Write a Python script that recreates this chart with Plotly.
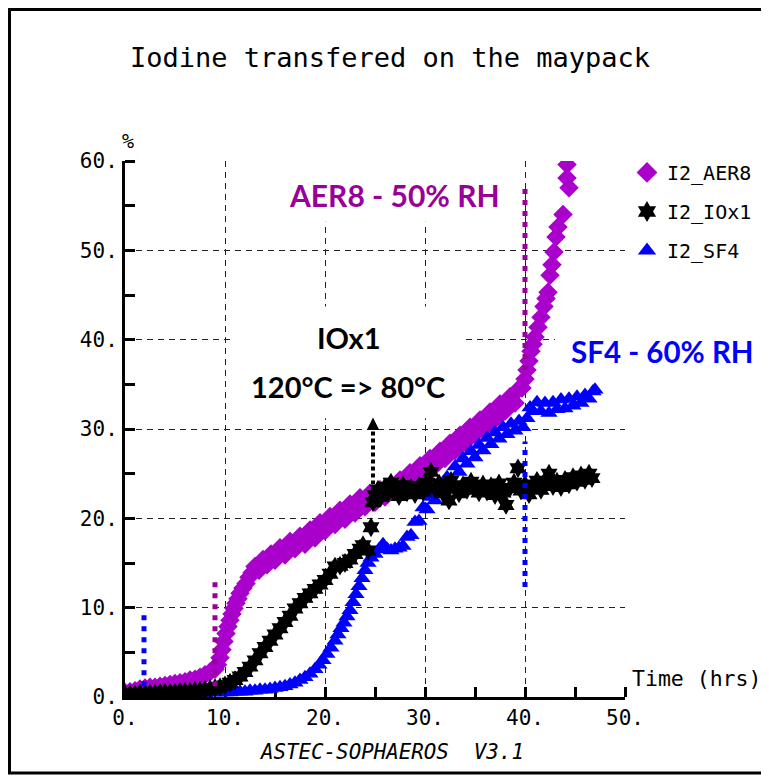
import plotly.graph_objects as go

# ---------------- data ----------------
aer8_x = [0.0, 0.5, 1.0, 1.5, 2.0, 2.5, 3.0, 3.5, 4.0, 4.5, 5.0, 5.5, 6.0, 6.5, 7.0, 7.5, 8.0, 8.5, 9.0,
          9.25, 9.5, 9.7, 9.9, 10.1, 10.3, 10.5, 10.7, 10.9, 11.1, 11.3, 11.5, 11.8, 12.1, 12.4, 12.7,
          13.0, 13.4, 13.8, 14.2, 14.6, 15.0, 15.5, 16.0, 16.5, 17.0, 17.5, 18.0, 18.5, 19.0, 19.5,
          20.0, 20.5, 21.0, 21.5, 22.0, 22.5, 23.0, 23.5, 24.0, 24.5, 25.0, 25.5, 26.0, 26.5, 27.0,
          27.5, 28.0, 28.5, 29.0, 29.5, 30.0, 30.5, 31.0, 31.5, 32.0, 32.5, 33.0, 33.5, 34.0, 34.5,
          35.0, 35.5, 36.0, 36.5, 37.0, 37.5, 38.0, 38.5, 39.0, 39.4, 39.7, 40.0, 40.2, 40.4, 40.6,
          40.8, 41.0, 41.3, 41.6, 41.9, 42.1, 42.3, 42.5, 42.7, 42.9, 43.1, 43.3, 43.8, 44.4, 44.2, 44.2]
aer8_y = [0.5, 0.6, 0.7, 0.9, 1.0, 1.1, 1.1, 1.2, 1.3, 1.4, 1.5, 1.6, 1.7, 1.9, 2.0, 2.2, 2.5, 2.8, 3.1,
          3.6, 4.4, 5.3, 6.2, 7.1, 7.9, 8.6, 9.3, 9.9, 10.5, 11.0, 11.6, 12.2, 12.7, 13.4, 13.9,
          14.6, 14.2, 15.4, 14.8, 16.0, 15.3, 16.7, 15.9, 17.4, 16.6, 18.0, 17.1, 18.7, 17.8, 19.5,
          18.6, 20.2, 19.3, 20.9, 19.9, 21.6, 20.6, 22.3, 21.3, 22.8, 21.8, 23.2, 22.4, 23.7, 23.0,
          24.3, 23.6, 25.1, 24.3, 25.9, 25.1, 26.7, 25.9, 27.5, 26.7, 28.4, 27.6, 29.3, 28.5, 30.2,
          29.4, 31.0, 30.2, 31.9, 31.1, 32.8, 32.0, 33.6, 32.9, 34.5, 34.6, 35.6, 36.6, 37.6, 38.7,
          39.5, 40.3, 41.4, 42.5, 43.7, 44.6, 45.3, 47.2, 48.4, 49.8, 51.5, 52.6, 54.0, 57.0, 58.1, 59.6]

iox1_x = [0, 0.5, 1, 1.5, 2, 2.5, 3, 3.5, 4, 4.5, 5, 5.5, 6, 6.5, 7, 7.5, 8, 8.5, 9, 9.5, 10, 10.5,
          11, 11.5, 12, 12.5, 13, 13.5, 14, 14.5, 15, 15.5, 16, 16.5, 17, 17.5, 18, 18.5, 19, 19.5,
          20, 20.5, 21, 21.5, 22, 22.5, 23, 23.5, 23.8, 24.3, 24.6, 24.8, 25.0, 25.3, 25.6, 26.0,
          26.3, 26.6, 27.0, 27.4, 27.8, 28.2, 28.6, 29.0, 29.4, 29.8, 30.2, 30.6, 31.0, 31.4, 31.8,
          32.2, 32.4, 32.6, 33.0, 33.4, 33.8, 34.2, 34.6, 35.0, 35.4, 35.8, 36.2, 36.6, 37.0, 37.4,
          37.8, 38.1, 38.5, 38.9, 39.3, 39.6, 40.0, 40.4, 40.8, 41.2, 41.6, 42.0, 42.4, 42.8, 43.2,
          43.6, 44.0, 44.4, 44.8, 45.2, 45.6, 46.0, 46.4, 46.7]
iox1_y = [0.3, 0.3, 0.3, 0.4, 0.4, 0.4, 0.4, 0.5, 0.5, 0.5, 0.5, 0.6, 0.6, 0.6, 0.7, 0.7, 0.8, 0.9,
          1.0, 1.1, 1.3, 1.6, 1.9, 2.3, 2.8, 3.4, 4.1, 4.9, 5.6, 6.3, 7.0, 7.7, 8.4, 9.1, 9.9, 10.5,
          11.1, 11.6, 12.1, 12.6, 13.1, 13.8, 14.6, 14.7, 15.0, 15.4, 16.0, 16.6, 17.0, 16.4, 19.0,
          21.8, 22.6, 23.2, 22.4, 23.5, 22.8, 24.0, 23.1, 22.5, 23.7, 22.9, 23.4, 22.7, 23.6, 23.0,
          24.0, 25.2, 23.3, 23.9, 22.8, 23.6, 22.0, 24.2, 23.3, 22.8, 23.7, 23.2, 24.1, 23.4, 22.9,
          23.8, 23.0, 23.6, 22.6, 23.9, 22.9, 21.5, 23.4, 24.0, 25.6, 23.1, 23.8, 22.7, 23.5, 24.2,
          23.2, 23.8, 25.0, 23.6, 24.1, 23.5, 24.3, 23.8, 24.6, 24.1, 24.8, 24.3, 25.0, 24.5]

sf4_x = [0, 0.5, 1, 1.5, 2, 2.5, 3, 3.5, 4, 4.5, 5, 5.5, 6, 6.5, 7, 7.5, 8, 8.5, 9, 9.5, 10, 10.5,
         11, 11.5, 12, 12.5, 13, 13.5, 14, 14.5, 15, 15.5, 16, 16.5, 17, 17.5, 18, 18.5, 19, 19.4,
         19.8, 20.2, 20.6, 21.0, 21.3, 21.6, 21.9, 22.2, 22.5, 22.8, 23.1, 23.4, 23.7, 24.0, 24.3,
         24.6, 25.0, 25.4, 25.8, 26.2, 26.6, 27.0, 27.4, 27.8, 28.2, 28.6, 29.0, 29.4, 29.8, 30.2,
         30.6, 31.0, 31.4, 31.8, 32.2, 32.6, 33.0, 33.4, 33.8, 34.2, 34.6, 35.0, 35.4, 35.8, 36.2,
         36.6, 37.0, 37.4, 37.8, 38.2, 38.6, 39.0, 39.4, 39.8, 40.2, 40.5, 40.8, 41.2, 41.6, 42.0,
         42.4, 42.8, 43.2, 43.6, 44.0, 44.4, 44.8, 45.2, 45.6, 46.0, 46.4, 46.8, 47.0]
sf4_y = [0.3, 0.3, 0.3, 0.3, 0.3, 0.3, 0.3, 0.3, 0.3, 0.3, 0.3, 0.4, 0.4, 0.4, 0.4, 0.4, 0.4, 0.5,
         0.5, 0.5, 0.5, 0.5, 0.6, 0.6, 0.6, 0.7, 0.7, 0.8, 0.8, 0.9, 1.0, 1.1, 1.2, 1.4, 1.6, 1.9,
         2.2, 2.6, 3.1, 3.6, 4.1, 4.8, 5.5, 6.3, 7.0, 7.7, 8.3, 9.0, 9.7, 10.6, 11.5, 12.4, 13.3,
         14.2, 15.0, 15.6, 16.0, 16.5, 17.1, 16.6, 16.4, 16.6, 16.7, 16.9, 17.9, 18.1, 19.6, 19.7,
         21.2, 21.0, 22.4, 22.0, 23.5, 23.1, 24.6, 24.2, 25.8, 25.2, 26.7, 26.1, 27.5, 26.8, 28.2,
         27.6, 29.0, 28.3, 29.6, 28.9, 30.2, 29.4, 30.6, 29.8, 30.9, 30.2, 31.2, 32.4, 32.0, 33.0,
         32.0, 32.9, 31.8, 33.0, 32.2, 33.3, 32.3, 33.4, 32.6, 33.6, 32.9, 33.8, 33.4, 34.2, 34.4]

series_names = ["I2_AER8", "I2_IOx1", "I2_SF4"]
x_ticks = [0, 10, 20, 30, 40, 50]
x_ticktext = ["0.", "10.", "20.", "30.", "40.", "50."]
y_ticks = [0, 10, 20, 30, 40, 50, 60]
y_ticktext = ["0.", "10.", "20.", "30.", "40.", "50.", "60."]

# ---------------- style ----------------
MAG = "#AA00CC"
BLUE = "#0000FF"
BLK = "#000000"
DARKMAG = "#990099"
MONO = "DejaVu Sans Mono"
SANSB = "Lato"

fig = go.Figure()

fig.add_trace(go.Scatter(x=aer8_x, y=aer8_y, mode="markers", showlegend=False,
                         marker=dict(symbol="diamond", size=15, color=MAG, line=dict(width=0))))
fig.add_trace(go.Scatter(x=sf4_x, y=sf4_y, mode="markers", showlegend=False,
                         marker=dict(symbol="triangle-up", size=15, color=BLUE, line=dict(width=0))))
fig.add_trace(go.Scatter(x=iox1_x, y=iox1_y, mode="markers", showlegend=False,
                         marker=dict(symbol="hexagram", size=15, color=BLK, line=dict(width=0))))

# legend entries
for name, sym, col in zip(series_names, ["diamond", "hexagram", "triangle-up"], [MAG, BLK, BLUE]):
    fig.add_trace(go.Scatter(x=[None], y=[None], mode="markers", name=name, legendgroup=name,
                             marker=dict(symbol=sym, size=16, color=col, line=dict(width=0))))

shapes = []
# white boxes behind the labels (hide the grid)
for (x0, x1, y0, y1) in [(15, 39.2, 53.2, 60.4), (10.8, 33.8, 31.2, 43.7), (43.0, 51.0, 34.9, 43.9)]:
    shapes.append(dict(type="rect", xref="x", yref="y", x0=x0, x1=x1, y0=y0, y1=y1,
                       fillcolor="white", line=dict(width=0), layer="between"))
# dotted vertical marker lines
for (xv, y0, y1, col) in [(1.9, 1.2, 9.3, BLUE), (9.0, 1.2, 13.1, DARKMAG),
                          (40.0, 36.6, 57.2, DARKMAG), (40.0, 12.3, 28.6, BLUE)]:
    shapes.append(dict(type="line", xref="x", yref="y", x0=xv, x1=xv, y0=y0, y1=y1,
                       line=dict(color=col, width=5, dash="5px,6px"), layer="above"))
shapes.append(dict(type="line", xref="x", yref="y", x0=24.8, x1=24.8, y0=23.0, y1=30.2,
                   line=dict(color=BLK, width=4, dash="4px,3px"), layer="above"))
# outer frame
shapes.append(dict(type="rect", xref="paper", yref="paper", x0=-0.231, x1=1.4, y0=-0.1418, y1=1.2826,
                   line=dict(color="black", width=3), fillcolor="rgba(0,0,0,0)", layer="above"))

annotations = [
    dict(x=26.9, y=56.2, xref="x", yref="y", text="AER8 - 50% RH", showarrow=False,
         xanchor="center", yanchor="middle",
         font=dict(family=SANSB, size=30, color=DARKMAG, weight="bold")),
    dict(x=22.35, y=40.2, xref="x", yref="y", text="IOx1", showarrow=False,
         xanchor="center", yanchor="middle",
         font=dict(family=SANSB, size=29, color="black", weight="bold")),
    dict(x=22.3, y=34.8, xref="x", yref="y", text="120°C => 80°C", showarrow=False,
         xanchor="center", yanchor="middle",
         font=dict(family=SANSB, size=29, color="black", weight="bold")),
    dict(x=1.074, y=0.6437, xref="paper", yref="paper", text="SF4 - 60% RH", showarrow=False,
         xanchor="center", yanchor="middle",
         font=dict(family=SANSB, size=29.5, color=BLUE, weight="bold")),
    dict(x=24.8, y=31.3, ax=24.8, ay=29.8, xref="x", yref="y", axref="x", ayref="y", text="",
         showarrow=True, arrowhead=2, arrowsize=1, arrowwidth=2.5, arrowcolor="black"),
    dict(x=0.006, y=1.038, xref="paper", yref="paper", text="%", showarrow=False,
         xanchor="center", yanchor="middle",
         font=dict(family=MONO, size=20, color="black")),
    dict(x=1.01, y=0.0354, xref="paper", yref="paper", text="Time (hrs)", showarrow=False,
         xanchor="left", yanchor="middle", font=dict(family=MONO, size=21.5, color="black")),
    dict(x=0.533, y=-0.1026, xref="paper", yref="paper", text="<i>ASTEC-SOPHAEROS\u00a0 V3.1</i>",
         showarrow=False, xanchor="center", yanchor="middle",
         font=dict(family=MONO, size=20.8, color="black")),
]

axis_common = dict(showline=True, linewidth=3, linecolor="black", mirror=False,
                   showgrid=True, gridcolor="#222222", gridwidth=1, griddash="6px,5px",
                   zeroline=False, ticks="", layer="below traces",
                   tickfont=dict(family=MONO, size=21, color="black"))

# the page body adds an 8px offset, so the figure is 8px smaller than the window
fig.update_layout(
    width=761, height=768,
    margin=dict(l=117, r=144, t=153, b=79),
    paper_bgcolor="white", plot_bgcolor="white",
    title=dict(text="Iodine transfered on the maypack", x=(390 - 8) / 761, xanchor="center",
               y=1 - 50 / 768, yanchor="middle", xref="container", yref="container",
               font=dict(family=MONO, size=27, color="black")),
    xaxis=dict(range=[0, 50], tickvals=x_ticks, ticktext=x_ticktext,
               minor=dict(dtick=5, tick0=0, ticks="inside", ticklen=10, tickwidth=3,
                          tickcolor="black", showgrid=False),
               **axis_common),
    yaxis=dict(range=[0, 60], tickvals=y_ticks, ticktext=y_ticktext,
               minor=dict(dtick=5, tick0=0, ticks="inside", ticklen=10, tickwidth=3,
                          tickcolor="black", showgrid=False),
               **axis_common),
    legend=dict(x=1.004, y=1.015, xanchor="left", yanchor="top", bgcolor="rgba(0,0,0,0)",
                font=dict(family=MONO, size=20, color="black"), tracegroupgap=10,
                traceorder="grouped", itemsizing="trace"),
    shapes=shapes, annotations=annotations,
)

fig.write_html("out.html")
